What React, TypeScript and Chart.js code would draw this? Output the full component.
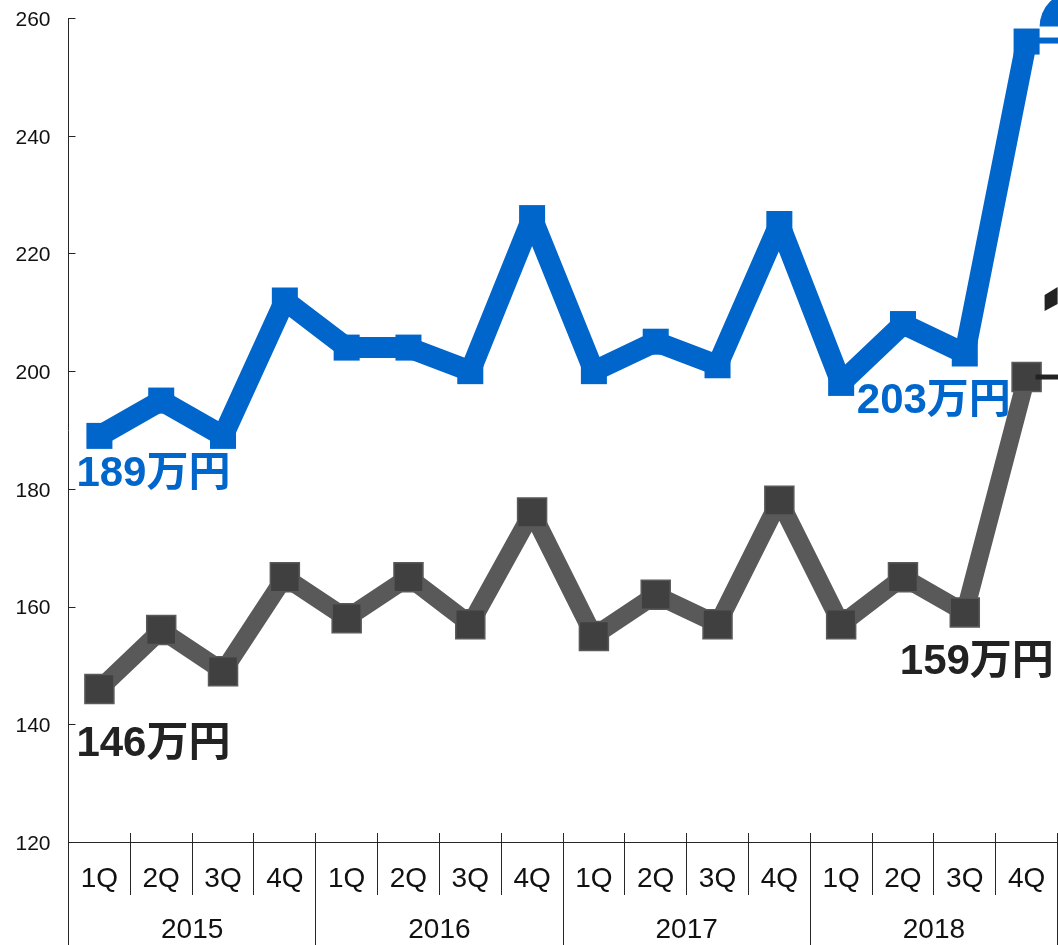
import React, { useEffect, useRef } from "react";
import { Chart, registerables } from "chart.js";

Chart.register(...registerables);

const quarters = ["1Q","2Q","3Q","4Q","1Q","2Q","3Q","4Q","1Q","2Q","3Q","4Q","1Q","2Q","3Q","4Q"];
const years = ["2015","2016","2017","2018"];
const blueValues = [189,195,189,212,204,204,200,226,200,205,201,225,198,208,203,256];
const greyValues = [146,156,149,165,158,165,157,176,155,162,157,178,157,165,159,199];

const BLUE = "#0066CC";
const DARK = "#222222";
const AXIS = "#262626";

const noPadding = (s: any) => {
  s.paddingTop = 0;
  s.paddingBottom = 0;
  s.paddingLeft = 0;
  s.paddingRight = 0;
};

const decorations = {
  id: "decorations",
  beforeDraw(chart: any) {
    // nudge the y tick labels down slightly relative to their ticks
    const yScale = chart.scales.y;
    yScale._labelItems = null;
    yScale.getLabelItems().forEach((item: any) => {
      item.options.translation = [item.options.translation[0], item.options.translation[1] + 2];
    });
  },
  afterDraw(chart: any) {
    const { ctx, scales, chartArea } = chart;
    const x = scales.x, y = scales.y;
    const step = x.getPixelForValue(1) - x.getPixelForValue(0);
    const left = chartArea.left;
    const bottom = chartArea.bottom;
    const H = chart.height;
    ctx.save();
    ctx.strokeStyle = AXIS;
    ctx.lineWidth = 1;
    y.ticks.forEach((t: any) => {
      const py = Math.round(y.getPixelForValue(t.value)) + 0.5;
      ctx.beginPath();
      ctx.moveTo(left, py);
      ctx.lineTo(left + 7, py);
      ctx.stroke();
    });
    for (let i = 0; i <= quarters.length; i++) {
      const px = Math.round(left + step * i - 0.5) + 0.5;
      const isYear = i % 4 === 0;
      ctx.beginPath();
      ctx.moveTo(px, bottom - 9);
      ctx.lineTo(px, isYear ? H : bottom + 53);
      ctx.stroke();
    }
    const lastX = x.getPixelForValue(15);
    const by = y.getPixelForValue(blueValues[15]);
    const gy = y.getPixelForValue(greyValues[15]);
    ctx.fillStyle = BLUE;
    ctx.fillRect(lastX, by - 4, chart.width - lastX, 6);
    ctx.beginPath();
    ctx.rect(lastX, 0, chart.width - lastX, by - 15);
    ctx.clip();
    ctx.beginPath();
    ctx.arc(lastX + 48, by - 15, 35, 0, Math.PI * 2);
    ctx.fill();
    ctx.restore();
    ctx.save();
    ctx.fillStyle = DARK;
    ctx.fillRect(lastX + 9, gy - 2.5, chart.width - lastX - 9, 5);
    ctx.beginPath();
    ctx.moveTo(lastX + 18, gy - 82);
    ctx.lineTo(lastX + 31, gy - 90);
    ctx.lineTo(lastX + 31, gy - 73);
    ctx.lineTo(lastX + 18, gy - 66);
    ctx.closePath();
    ctx.fill();
    ctx.font = 'bold 42px "Liberation Sans", "Noto Sans CJK JP", sans-serif';
    ctx.textBaseline = "middle";
    ctx.textAlign = "left";
    const label = (v: number, i: number, dx: number, dy: number, color: string) => {
      ctx.fillStyle = color;
      ctx.fillText(v + "万円", x.getPixelForValue(i) + dx, y.getPixelForValue(v) + dy);
    };
    label(blueValues[0], 0, -23, 39, BLUE);
    label(blueValues[14], 14, -108, 48, BLUE);
    label(greyValues[0], 0, -23, 55, DARK);
    label(greyValues[14], 14, -65, 50, DARK);
    ctx.restore();
  },
};

export default function App() {
  const ref = useRef<HTMLCanvasElement>(null);
  useEffect(() => {
    const chart = new Chart(ref.current as HTMLCanvasElement, {
      type: "line",
      data: {
        labels: quarters,
        datasets: [
          {
            data: blueValues,
            borderColor: BLUE,
            borderWidth: 21,
            borderJoinStyle: "bevel",
            backgroundColor: BLUE,
            pointStyle: "rect",
            pointRadius: 18.4,
            pointBackgroundColor: BLUE,
            pointBorderColor: BLUE,
            pointBorderWidth: 0,
            tension: 0,
            clip: false,
          },
          {
            data: greyValues,
            borderColor: "#595959",
            borderWidth: 18,
            borderJoinStyle: "bevel",
            backgroundColor: "#404040",
            pointStyle: "rect",
            pointRadius: 20.5,
            pointBackgroundColor: "#404040",
            pointBorderColor: "#595959",
            pointBorderWidth: 1.5,
            tension: 0,
            clip: false,
          },
        ],
      },
      options: {
        responsive: false,
        animation: false,
        layout: { autoPadding: false, padding: { left: 0.5, right: 0.5, top: 18, bottom: 0 } },
        plugins: { legend: { display: false }, tooltip: { enabled: false }, title: { display: false } },
        scales: {
          y: {
            min: 120,
            max: 260,
            position: "left",
            afterFit: (s: any) => { s.width = 68; noPadding(s); },
            ticks: { stepSize: 20, padding: 18, color: "#111", font: { family: '"Liberation Sans"', size: 21 } },
            grid: { display: false, drawTicks: false },
            border: { display: true, color: AXIS, width: 1 },
          },
          x: {
            position: "bottom",
            offset: true,
            afterFit: (s: any) => { s.height = 53; noPadding(s); },
            ticks: { autoSkip: false, maxRotation: 0, padding: 20, color: "#111", font: { family: '"Liberation Sans"', size: 28 } },
            grid: { display: false, drawTicks: false },
            border: { display: true, color: AXIS, width: 1 },
          },
          x2: {
            type: "category",
            axis: "x",
            position: "bottom",
            labels: years,
            offset: true,
            afterFit: (s: any) => { s.height = 50; noPadding(s); },
            ticks: { autoSkip: false, maxRotation: 0, padding: 18, color: "#111", font: { family: '"Liberation Sans"', size: 28 } },
            grid: { display: false, drawTicks: false },
            border: { display: false },
          },
        },
      } as any,
      plugins: [decorations],
    });
    return () => chart.destroy();
  }, []);
  return (
    <canvas
      ref={ref}
      width={1058}
      height={945}
      style={{ position: "absolute", left: 0, top: 0, display: "block", width: 1058, height: 945 }}
    />
  );
}
